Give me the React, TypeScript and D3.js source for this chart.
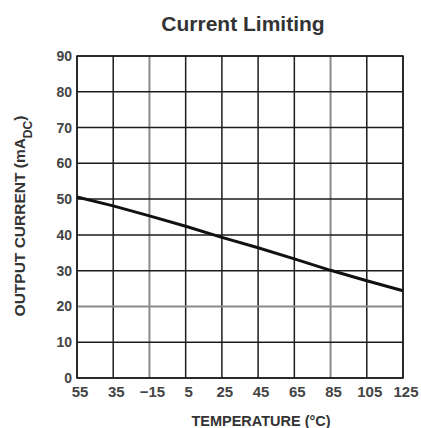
import React from "react";
import * as d3 from "d3";

// temperature ticks (°C) and labels as printed on the sheet
const temps = [-55, -35, -15, 5, 25, 45, 65, 85, 105, 125];
const tempLabels = ["55", "35", "\u221215", "5", "25", "45", "65", "85", "105", "125"];
const currentTicks = [0, 10, 20, 30, 40, 50, 60, 70, 80, 90];

// output current limit (mA DC)
const limitCurrent = [50.6, 48.1, 45.3, 42.4, 39.3, 36.4, 33.3, 30.1, 27.2, 24.4];

// grid lines that came out lighter in the scan
const fadedTemps = [-15, 85];
const fadedCurrents = [20];

const W = 421;
const H = 428;
const margin = { top: 56, right: 18, bottom: 50, left: 77 };

export default function App() {
  const x = d3
    .scaleLinear()
    .domain([-55, 125])
    .range([margin.left, W - margin.right]);
  const y = d3
    .scaleLinear()
    .domain([0, 90])
    .range([H - margin.bottom, margin.top]);

  const line = d3
    .line<number>()
    .x((_, i) => x(temps[i]))
    .y((d) => y(d));

  const font = "'Liberation Sans', Arial, sans-serif";

  return (
    <svg
      width={W}
      height={H}
      style={{ position: "absolute", left: 0, top: 0, background: "#fff" }}
      fontFamily={font}
    >
      <text x={243} y={31} textAnchor="middle" fontSize={21} fontWeight="bold" fill="#333">
        Current Limiting
      </text>

      {/* grid */}
      {temps.map((t) => (
        <line
          key={"v" + t}
          x1={x(t)}
          x2={x(t)}
          y1={y(0)}
          y2={y(90)}
          stroke={fadedTemps.includes(t) ? "#8a8a8a" : "#1c1c1c"}
          strokeWidth={fadedTemps.includes(t) ? 2 : 1.5}
        />
      ))}
      {currentTicks.map((c) => (
        <line
          key={"h" + c}
          x1={x(-55)}
          x2={x(125)}
          y1={y(c)}
          y2={y(c)}
          stroke={fadedCurrents.includes(c) ? "#8a8a8a" : "#1c1c1c"}
          strokeWidth={fadedCurrents.includes(c) ? 2 : 1.5}
        />
      ))}
      <rect
        x={x(-55)}
        y={y(90)}
        width={x(125) - x(-55)}
        height={y(0) - y(90)}
        fill="none"
        stroke="#1c1c1c"
        strokeWidth={1.5}
      />

      {/* curve */}
      <path d={line(limitCurrent) ?? ""} fill="none" stroke="#111" strokeWidth={3} />

      {/* y ticks */}
      {currentTicks.map((c) => (
        <text
          key={"yl" + c}
          x={72}
          y={y(c) + 5}
          textAnchor="end"
          fontSize={14}
          fontWeight="bold"
          fill="#444"
        >
          {c}
        </text>
      ))}

      {/* x ticks */}
      {temps.map((t, i) => (
        <text
          key={"xl" + t}
          x={x(t) + 3}
          y={397}
          textAnchor="middle"
          fontSize={15}
          fill="#444"
          fontWeight="bold"
        >
          {tempLabels[i]}
        </text>
      ))}

      <text x={261} y={426} textAnchor="middle" fontSize={14.5} fontWeight="bold" fill="#333">
        TEMPERATURE (°C)
      </text>

      <text
        transform={`translate(25,216) rotate(-90)`}
        textAnchor="middle"
        fontSize={15.5}
        fontWeight="bold"
        fill="#333"
      >
        OUTPUT CURRENT (mA
        <tspan baselineShift="sub" fontSize={12}>
          DC
        </tspan>
        )
      </text>
    </svg>
  );
}
